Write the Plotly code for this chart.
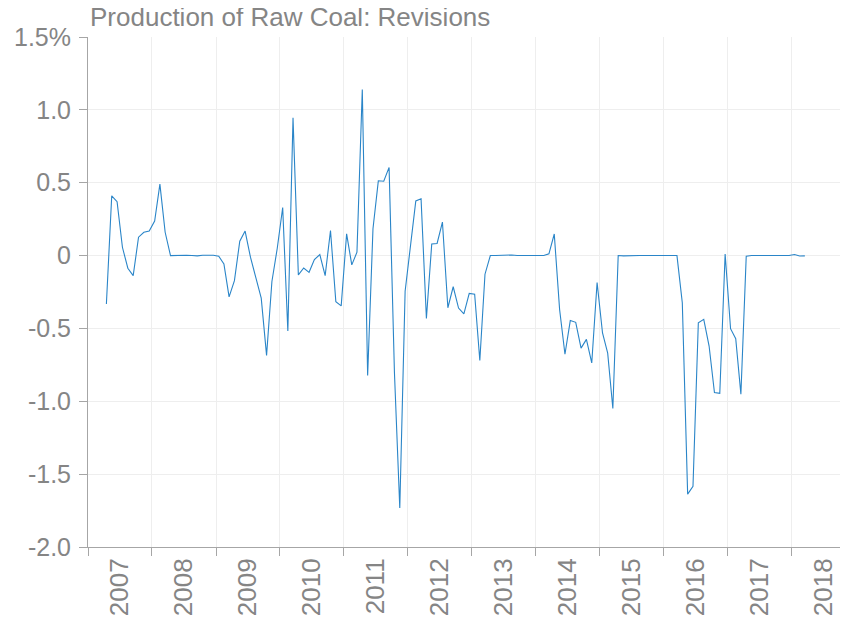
import pandas as pd
import plotly.graph_objects as go

# monthly revisions, Apr 2007 .. Mar 2018 (percent)
months = pd.date_range("2007-04-01", periods=132, freq="MS")
revisions = [
    # 2007 (Apr-Dec)
    -0.333, 0.41, 0.37, 0.057, -0.087, -0.138, 0.126, 0.16, 0.168,
    # 2008
    0.237, 0.49, 0.16, 0.0, 0.002, 0.003, 0.002, 0.001, -0.002, 0.002, 0.003, 0.002,
    # 2009
    -0.005, -0.057, -0.283, -0.172, 0.099, 0.168, -0.011, -0.161, -0.292, -0.685, -0.178, 0.05,
    # 2010
    0.33, -0.517, 0.945, -0.133, -0.085, -0.115, -0.028, 0.007, -0.138, 0.172, -0.317, -0.345,
    # 2011
    0.149, -0.064, 0.023, 1.14, -0.823, 0.184, 0.513, 0.51, 0.605, -0.8, -1.732, -0.245,
    # 2012
    0.07, 0.375, 0.39, -0.432, 0.08, 0.083, 0.23, -0.358, -0.214, -0.36, -0.40, -0.26,
    # 2013
    -0.265, -0.72, -0.128, 0.0, 0.0, 0.002, 0.004, 0.004, 0.0, 0.0, 0.002, -0.002,
    # 2014
    -0.002, 0.0, 0.012, 0.148, -0.37, -0.677, -0.446, -0.458, -0.635, -0.575, -0.737, -0.185,
    # 2015
    -0.531, -0.67, -1.05, 0.0, -0.002, 0.0, 0.001, 0.0, 0.0, -0.001, -0.002, 0.0,
    # 2016
    0.0, 0.0, 0.0, -0.324, -1.637, -1.584, -0.461, -0.438, -0.621, -0.94, -0.945, 0.011,
    # 2017
    -0.502, -0.571, -0.952, -0.005, 0.0, 0.0, 0.0, -0.002, 0.0, 0.0, 0.0, 0.0,
    # 2018 (Jan-Mar)
    0.007, -0.003, -0.002,
]

y_tickvals = [1.5, 1.0, 0.5, 0, -0.5, -1.0, -1.5, -2.0]
y_ticktext = ["1.5%", "1.0", "0.5", "0", "-0.5", "-1.0", "-1.5", "-2.0"]

GREY = "#858585"
FONT = "Liberation Sans, Arial, sans-serif"

fig = go.Figure()
fig.add_trace(
    go.Scatter(
        x=months,
        y=revisions,
        xperiod="M1",
        xperiodalignment="middle",
        mode="lines",
        line=dict(color="#2a85c8", width=1.1),
        hoverinfo="skip",
    )
)

# the page body adds an 8px offset, margins are set with that in mind
fig.update_layout(
    width=848,
    height=625,
    margin=dict(l=80, r=8, t=29, b=86, autoexpand=False),
    paper_bgcolor="white",
    plot_bgcolor="white",
    showlegend=False,
    font=dict(family=FONT, size=25, color=GREY),
    title=dict(
        text="Production of Raw Coal: Revisions",
        x=82 / 848,
        xanchor="left",
        y=1,
        yanchor="top",
        pad=dict(t=0, b=0),
        font=dict(family=FONT, size=26, color=GREY),
    ),
    xaxis=dict(
        range=["2007-01-01", "2018-11-18"],
        dtick="M12",
        tick0="2007-01-01",
        tickformat="%Y",
        ticklabelmode="period",
        tickangle=-90,
        ticks="outside",
        ticklen=8,
        tickcolor="#a6a6a6",
        showline=True,
        linecolor="#a6a6a6",
        linewidth=1,
        showgrid=True,
        gridcolor="#eeeeee",
        zeroline=False,
        automargin=False,
        ticklabelstandoff=-8,
        tickfont=dict(size=26, color=GREY),
    ),
    yaxis=dict(
        range=[-2.0, 1.5],
        tickvals=y_tickvals,
        ticktext=y_ticktext,
        ticks="outside",
        ticklen=8,
        tickcolor="#a6a6a6",
        showline=True,
        linecolor="#a6a6a6",
        linewidth=1,
        showgrid=True,
        gridcolor="#eeeeee",
        zeroline=False,
        automargin=False,
        ticklabelstandoff=3,
        tickfont=dict(size=25, color=GREY),
    ),
)

fig.write_html("out.html")
